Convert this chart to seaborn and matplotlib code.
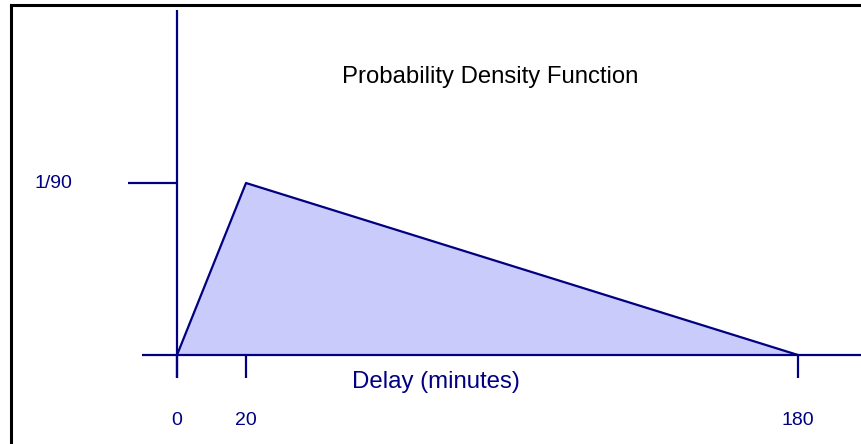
import matplotlib
matplotlib.use("Agg")
import matplotlib.pyplot as plt
from matplotlib.lines import Line2D
import seaborn as sns
import numpy as np
import pandas as pd

# ---- data ----
delay = [0, 20, 180]
density = [0, 1/90, 0]
x_ticks = [0, 20, 180]
x_tick_labels = ["0", "20", "180"]
y_ticks = [1/90]
y_tick_labels = ["1/90"]
title = "Probability Density Function"
x_label = "Delay (minutes)"

sns.set_theme(style="white")
plt.rcParams['font.family'] = ['Liberation Sans', 'DejaVu Sans']

W, H = 862, 444
fig = plt.figure(figsize=(W/100, H/100), dpi=100)
fig.patch.set_facecolor("white")
ax = fig.add_axes([0, 0, 1, 1])
ax.axis("off")

# pixel mapping: x=0 -> px 177, x=180 -> px 798 ; y=0 -> py 355, y=1/90 -> py 183
x0_px, x1_px = 177, 798
y0_py, y1_py = 355, 183
sx = (x1_px - x0_px) / 180.0
sy = (y0_py - y1_py) / (1/90)
ax.set_xlim(-x0_px / sx, (W - x0_px) / sx)
ax.set_ylim(-(H - y0_py) / sy, y0_py / sy)

def px2x(px):
    return (px - x0_px) / sx

def py2y(py):
    return (y0_py - py) / sy

navy = "#000080"
fill = "#C9CBFA"

df = pd.DataFrame({"delay": delay, "density": density})
ax.fill_between(df["delay"], df["density"], 0, color=fill, lw=0, zorder=1)
sns.lineplot(data=df, x="delay", y="density", ax=ax, color=navy, lw=1.6,
             sort=False, estimator=None, zorder=3)

# axis lines
ax.plot([px2x(142), px2x(W)], [0, 0], color=navy, lw=1.6, zorder=2, solid_capstyle="butt")
ax.plot([0, 0], [py2y(378), py2y(10)], color=navy, lw=1.6, zorder=2, solid_capstyle="butt")

# x ticks and labels
for xv, lab in zip(x_ticks, x_tick_labels):
    ax.plot([xv, xv], [0, py2y(378)], color=navy, lw=1.6, zorder=2, solid_capstyle="butt")
    ax.text(xv, py2y(420), lab, color=navy, fontsize=14, ha="center", va="center")

# y ticks and labels
for yv, lab in zip(y_ticks, y_tick_labels):
    ax.plot([px2x(128), 0], [yv, yv], color=navy, lw=1.6, zorder=2, solid_capstyle="butt")
    ax.text(px2x(53), yv, lab, color=navy, fontsize=14, ha="center", va="center")

ax.text(px2x(436), py2y(382), x_label, color=navy, fontsize=17.3, ha="center", va="center")
ax.text(px2x(490), py2y(77), title, color="black", fontsize=17.2, ha="center", va="center")

# frame (left and top)
fig.add_artist(Line2D([11/W, 11/W], [0, 1 - 5/H], transform=fig.transFigure,
                      color="black", lw=2.2, solid_capstyle="projecting"))
fig.add_artist(Line2D([11/W, 1], [1 - 5/H, 1 - 5/H], transform=fig.transFigure,
                      color="black", lw=2.2, solid_capstyle="projecting"))

fig.savefig("out.png", dpi=100, facecolor="white")
